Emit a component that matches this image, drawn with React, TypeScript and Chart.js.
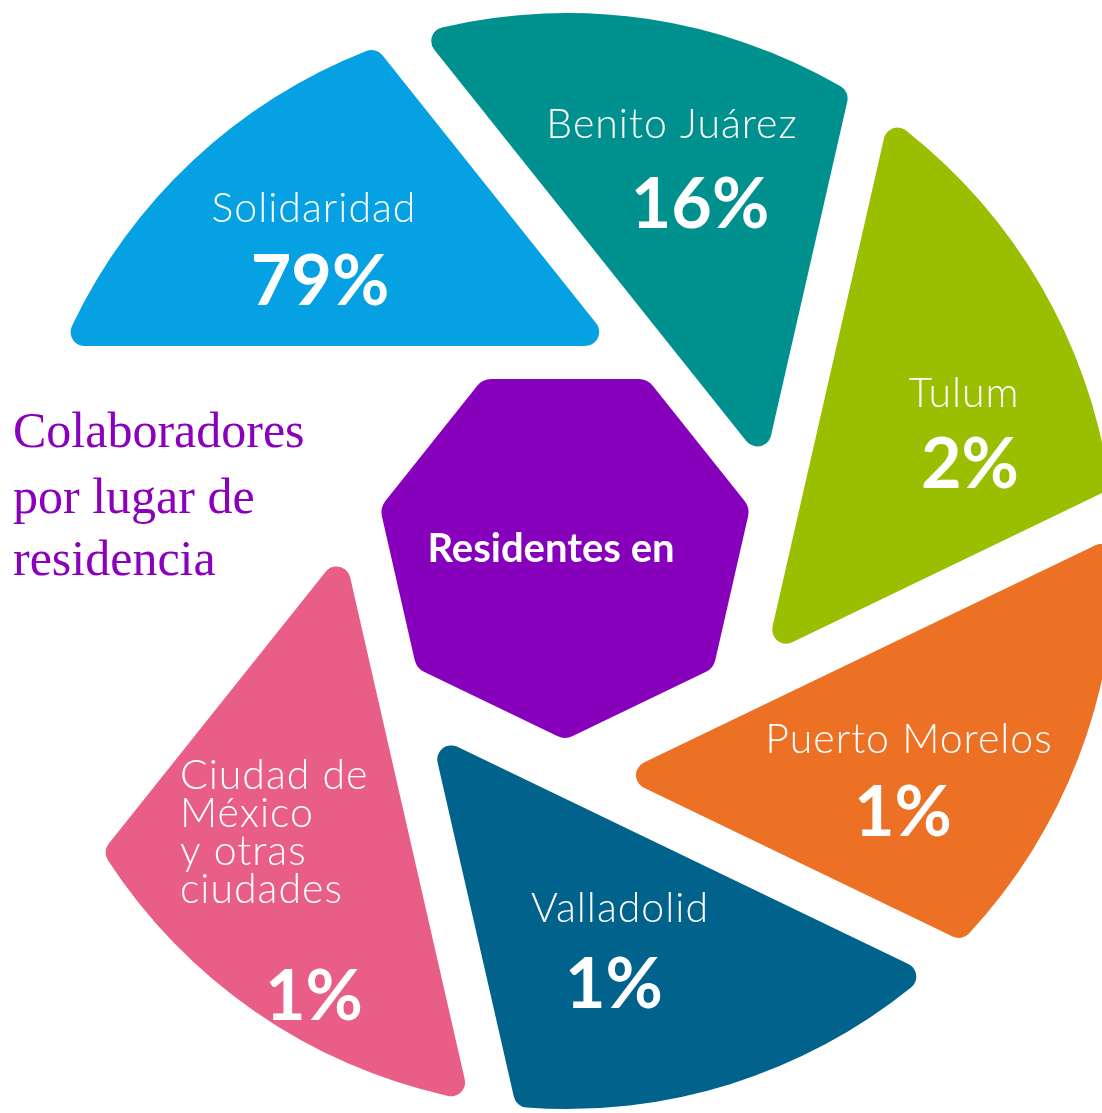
import React, { useEffect, useRef } from 'react';
import { Chart, DoughnutController, ArcElement } from 'chart.js';

// ---------- data ----------
const categories = ['Solidaridad', 'Benito Juárez', 'Tulum', 'Puerto Morelos', 'Valladolid', 'Ciudad de México y otras ciudades', ''];
const labelLines = [['Solidaridad'], ['Benito Juárez'], ['Tulum'], ['Puerto Morelos'], ['Valladolid'], ['Ciudad de', 'México', 'y otras', 'ciudades'], []];
const percentages = [79, 16, 2, 1, 1, 1, null];
// the infographic draws every blade the same size, whatever its share
const bladeWeights = [1, 1, 1, 1, 1, 1, 1];
const bladeColors = ['#05a1e3', '#00918f', '#99bf00', '#ec7125', '#01628c', '#e95e86', 'rgba(0,0,0,0)'];
const centerLabel = 'Residentes en';
const titleLines = ['Colaboradores', 'por lugar de', 'residencia'];

// ---------- layout / style ----------
const DESIGN_CX = 567;
const DESIGN_CY = 561;
const nameAnchors = [[314, 222], [672, 138], [964, 407], [909, 753], [620, 922], [180, 789]];
const nameAligns = ['center', 'center', 'center', 'center', 'center', 'left'];
const pctAnchors = [[320, 305], [700, 228], [970, 488], [903, 836], [614, 1008], [314, 1020]];
const bladeInnerExtra = [0, 0, 0, 0, 0, 11, 0];
const NAME_LINE_HEIGHT = 38;
const BLADE_GAP = 44;
const BLADE_CORNER = 14;
const HEPT_CORNER = 18;
const HEPT_OFFSET = [-2, -11];
const HEPT_COLOR = '#8700bb';
const TITLE_COLOR = '#8a00bc';

class ApertureArc extends ArcElement {
  static id = 'apertureArc';
  draw(ctx: CanvasRenderingContext2D) {
    const p: any = (this as any).getProps(['x', 'y', 'startAngle', 'endAngle', 'innerRadius', 'outerRadius']);
    const fill = (this as any).options.backgroundColor;
    if (!fill) return;
    const step = p.endAngle - p.startAngle;
    const phiO = p.endAngle;
    const phiI = p.endAngle + step;
    const idx = Math.round((((p.startAngle - (-Math.PI / 2 - step)) % (2 * Math.PI)) + 2 * Math.PI) % (2 * Math.PI) / step) % 7;
    const R = p.outerRadius;
    const rho = BLADE_CORNER;
    const dIn = p.innerRadius + (bladeInnerExtra[idx] || 0);
    const dOut = p.innerRadius + BLADE_GAP;
    const cu = Math.cos(phiO), su = Math.sin(phiO), cw = Math.cos(phiI), sw = Math.sin(phiI);
    const det = Math.sin(phiI - phiO);
    const a1 = dOut + rho, a2 = dIn - rho, Rr = R - rho;
    const f0x = (a1 * sw - su * a2) / det;
    const f0y = (cu * a2 - cw * a1) / det;
    const t = -Math.sqrt(Rr * Rr - a1 * a1);
    const f1x = a1 * cu - t * su, f1y = a1 * su + t * cu;
    const s = -Math.sqrt(Rr * Rr - a2 * a2);
    const f2x = a2 * cw - s * sw, f2y = a2 * sw + s * cw;
    const g1 = Math.atan2(f1y, f1x), g2 = Math.atan2(f2y, f2x);
    ctx.save();
    ctx.beginPath();
    ctx.arc(p.x + f0x, p.y + f0y, rho, phiI, phiO + Math.PI, false);
    ctx.arc(p.x + f1x, p.y + f1y, rho, phiO + Math.PI, g1, false);
    ctx.arc(p.x, p.y, R, g1, g2, false);
    ctx.arc(p.x + f2x, p.y + f2y, rho, g2, phiI, false);
    ctx.closePath();
    ctx.fillStyle = fill;
    ctx.fill();
    ctx.restore();
  }
}

class ApertureController extends DoughnutController {
  static id = 'aperture';
  static defaults = { dataElementType: 'apertureArc' };
}

Chart.register(DoughnutController, ArcElement, ApertureController, ApertureArc);

function roundedPolygon(ctx: CanvasRenderingContext2D, pts: number[][], r: number) {
  const n = pts.length;
  const a = pts[n - 1], b = pts[0];
  ctx.moveTo((a[0] + b[0]) / 2, (a[1] + b[1]) / 2);
  for (let i = 0; i < n; i++) {
    const c = pts[i], d = pts[(i + 1) % n];
    ctx.arcTo(c[0], c[1], d[0], d[1], r);
  }
  ctx.closePath();
}

const overlayPlugin = {
  id: 'apertureOverlay',
  afterDatasetsDraw(chart: any) {
    const meta = chart.getDatasetMeta(0);
    const el = meta.data[0];
    if (!el) return;
    const { x, y, innerRadius } = el.getProps(['x', 'y', 'innerRadius']);
    const n = meta.data.length;
    const ctx: CanvasRenderingContext2D = chart.ctx;
    ctx.save();

    // central heptagon
    const hx = x + HEPT_OFFSET[0], hy = y + HEPT_OFFSET[1];
    const rv = innerRadius / Math.cos(Math.PI / n);
    const pts: number[][] = [];
    for (let j = 0; j < n; j++) {
      const a = -Math.PI / 2 + Math.PI / n + (j * 2 * Math.PI) / n;
      pts.push([hx + rv * Math.cos(a), hy + rv * Math.sin(a)]);
    }
    ctx.beginPath();
    roundedPolygon(ctx, pts, HEPT_CORNER);
    ctx.fillStyle = HEPT_COLOR;
    ctx.fill();

    ctx.fillStyle = '#ffffff';
    ctx.textAlign = 'center';
    ctx.textBaseline = 'alphabetic';
    ctx.font = '700 40px Lato';
    (ctx as any).letterSpacing = '0px';
    ctx.fillText(centerLabel, x + (551 - DESIGN_CX), y + (562 - DESIGN_CY));

    // blade labels
    for (let i = 0; i < nameAnchors.length; i++) {
      const lines = labelLines[i];
      const [nx, ny] = nameAnchors[i];
      ctx.font = '300 41px Lato';
      (ctx as any).letterSpacing = '1px';
      ctx.textAlign = nameAligns[i] as CanvasTextAlign;
      lines.forEach((ln, k) => {
        ctx.fillText(ln, x + (nx - DESIGN_CX), y + (ny - DESIGN_CY) + k * NAME_LINE_HEIGHT);
      });
      if (percentages[i] != null) {
        const [px, py] = pctAnchors[i];
        ctx.font = '700 70px Lato';
        (ctx as any).letterSpacing = '0px';
        ctx.textAlign = 'center';
        ctx.fillText(`${percentages[i]}%`, x + (px - DESIGN_CX), y + (py - DESIGN_CY));
      }
    }

    // title in the empty blade
    ctx.fillStyle = TITLE_COLOR;
    ctx.textAlign = 'left';
    ctx.font = '50px "Liberation Serif"';
    (ctx as any).letterSpacing = '0px';
    const titleBase = [447, 513, 575];
    titleLines.forEach((ln, k) => ctx.fillText(ln, 13, titleBase[k]));
    ctx.restore();
  },
};

export default function App() {
  const ref = useRef<HTMLCanvasElement>(null);
  useEffect(() => {
    const canvas = ref.current;
    if (!canvas) return;
    const chart = new Chart(canvas, {
      type: 'aperture' as any,
      data: {
        labels: categories,
        datasets: [
          {
            data: bladeWeights,
            backgroundColor: bladeColors,
            borderWidth: 0,
            hoverBorderWidth: 0,
            offset: 0,
            hoverOffset: 0,
          } as any,
        ],
      },
      options: {
        responsive: false,
        animation: false,
        devicePixelRatio: 1,
        events: [],
        cutout: 171,
        rotation: -360 / 7,
        layout: { padding: { left: 19, right: 15, top: 13, bottom: 4 } },
        plugins: { legend: { display: false }, tooltip: { enabled: false } },
      } as any,
      plugins: [overlayPlugin],
    });
    return () => chart.destroy();
  }, []);
  return (
    <div style={{ position: 'absolute', left: 0, top: 0, width: 1102, height: 1113, overflow: 'hidden', background: '#ffffff' }}>
      <canvas ref={ref} width={1130} height={1113} style={{ display: 'block', width: 1130, height: 1113 }} />
    </div>
  );
}
